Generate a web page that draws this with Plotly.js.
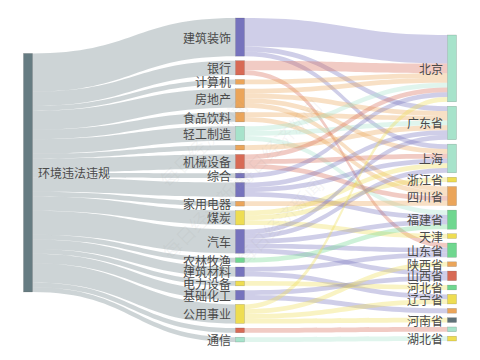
<!DOCTYPE html>
<html><head><meta charset="utf-8">
<script src="https://cdn.plot.ly/plotly-3.0.1.min.js"></script>
<style>html,body{margin:0;padding:0;background:#fff}#chart{width:480px;height:360px}</style>
</head><body><div id="chart"></div>
<script>
// ---------- data ----------
const rootName = '环境违法违规';
const industries = ['建筑装饰','银行','计算机','房地产','食品饮料','轻工制造','','机械设备','综合','','家用电器','煤炭','汽车','农林牧渔','建筑材料','电力设备','基础化工','公用事业','','通信'];
const industryValues = [8,3,1,4,2,3,1,3,1,3,1,3,5,1,2,1,2,4,1,1];
const provinces = ['北京','广东省','上海','浙江省','四川省','福建省','天津','山东省','陕西省','山西省','河北省','辽宁省','','河南省','','湖北省'];
// flows industry -> province (indices into the lists above)
const flowIndustry = [0,0,0, 1,1, 2, 3,3,3,3, 4,4, 5,5,5, 6, 7,7,7, 8, 9,9,9, 10, 11,11,11, 12,12,12,12,12, 13, 14,14, 15, 16,16, 17,17,17,17, 18, 19];
const flowProvince = [0,1,2, 0,7, 0, 0,1,2,4, 1,4, 0,1,5, 1, 0,2,4, 0, 1,2,5, 4, 2,3,6, 1,2,5,7,9, 5, 7,11, 10, 9,12, 0,8,11,13, 14, 15];
const flowValue    = [6,1,1, 2,1, 1, 1,1,1,1, 1,1, 1,1,1, 1, 1,1,1, 1, 1,1,1, 1, 1,1,1, 1,1,1,1,1, 1, 1,1, 1, 1,1, 1,1,1,1, 1, 1];

// ---------- styles ----------
const P='#7673bd', R='#d86a55', O='#eba55a', T='#a7e3cb', Y='#eedd52', G='#6fd78f', D='#5f7178';
const rootColor = '#667c82';
const industryColors = [P,R,O,O,O,T,O,R,P,P,O,Y,P,G,P,Y,P,Y,R,T];
const provinceColors = [T,T,T,Y,O,G,Y,G,O,R,G,Y,O,D,T,Y];

const W = 480, H = 360, topPx = 18, botPx = 342, domH = botPx - topPx;
const pad = 4.5, thick = 9;
const colX = [28, 240, 452];
const rootCenterPx = 154.7;      // within domain
const provinceOffsetPx = 17;     // right column starts lower

const total = industryValues.reduce((a,b)=>a+b,0);
const ky = (domH - (industries.length-1)*pad) / total;
const provinceValues = provinces.map((_,j)=>flowValue.reduce((s,v,k)=>s+(flowProvince[k]===j?v:0),0));

function stackCenters(vals, offset){
  let acc = offset; const out = [];
  vals.forEach(v=>{ out.push(acc + v*ky/2); acc += v*ky + pad; });
  return out;
}
const indC = stackCenters(industryValues, 0);
const proC = stackCenters(provinceValues, provinceOffsetPx);

function rgba(hex,a){const n=parseInt(hex.slice(1),16);return `rgba(${n>>16},${(n>>8)&255},${n&255},${a})`;}

const labels = [rootName].concat(industries, provinces);
const colors = [rootColor].concat(industryColors, provinceColors);
const nx = [colX[0]/W].concat(industries.map(()=>colX[1]/W), provinces.map(()=>colX[2]/W));
const ny = [rootCenterPx/domH].concat(indC.map(c=>c/domH), proC.map(c=>c/domH));

const src=[], tgt=[], val=[], lcol=[];
industries.forEach((_,i)=>{ src.push(0); tgt.push(1+i); val.push(industryValues[i]); lcol.push(rgba(rootColor,0.33)); });
flowValue.forEach((v,k)=>{ src.push(1+flowIndustry[k]); tgt.push(1+industries.length+flowProvince[k]); val.push(v); lcol.push(rgba(industryColors[flowIndustry[k]],0.35)); });

const trace = {
  type:'sankey', arrangement:'fixed',
  domain:{x:[0,1], y:[1-botPx/H, 1-topPx/H]},
  node:{label:labels, color:colors, x:nx, y:ny, pad:pad, thickness:thick,
        line:{color:'rgba(0,0,0,0.25)', width:0.5}},
  link:{source:src, target:tgt, value:val, color:lcol},
  textfont:{color:'rgba(0,0,0,0)', size:1}
};

const font = {family:'"Noto Sans CJK SC", "Noto Sans", sans-serif', size:12, color:'#4a4a4a'};
const ann = [];
ann.push({xref:'paper', yref:'paper', x:(colX[0]+thick/2+3)/W, y:1-(topPx+rootCenterPx)/H, text:rootName, showarrow:false, xanchor:'left', yanchor:'middle', font});
industries.forEach((t,i)=>{ if(t) ann.push({xref:'paper', yref:'paper', x:(colX[1]-thick/2-3)/W, y:1-(topPx+indC[i])/H, text:t, showarrow:false, xanchor:'right', yanchor:'middle', font}); });
provinces.forEach((t,i)=>{ if(t) ann.push({xref:'paper', yref:'paper', x:(colX[2]-thick/2-3)/W, y:1-(topPx+proC[i])/H, text:t, showarrow:false, xanchor:'right', yanchor:'middle', font}); });
// watermark
const wm = '每日经济新闻';
[[150,90],[330,90],[152,267],[332,273]].forEach(p=>{
  ann.push({xref:'paper', yref:'paper', x:p[0]/W, y:1-p[1]/H, text:wm, showarrow:false, textangle:-45,
    font:{family:'"Noto Sans CJK SC", sans-serif', size:19, color:'rgba(160,160,160,0.1)'}});
});

Plotly.newPlot('chart',[trace],{width:W,height:H,margin:{l:0,r:0,t:0,b:0},paper_bgcolor:'#fff',annotations:ann,showlegend:false},{staticPlot:true});
</script></body></html>
